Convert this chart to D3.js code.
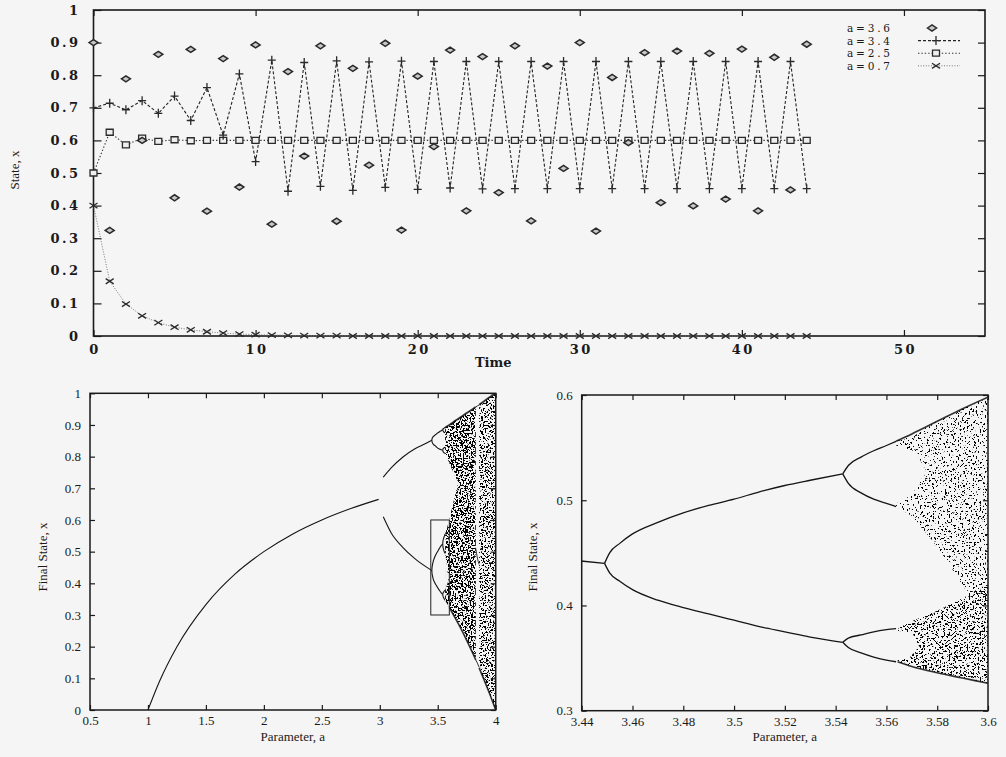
<!DOCTYPE html>
<html><head><meta charset="utf-8">
<script src="https://cdn.jsdelivr.net/npm/d3@7"></script>
<style>
html,body{margin:0;padding:0;background:#f5f5f5;}
svg{display:block;}
</style></head><body>
<svg id="c" width="1006" height="757"></svg>
<script>
// ---------- time series (top chart) ----------
const timeSteps = [0,1,2,3,4,5,6,7,8,9,10,11,12,13,14,15,16,17,18,19,20,21,22,23,24,25,26,27,28,29,30,31,32,33,34,35,36,37,38,39,40,41,42,43,44];
const legendLabels = ["a=3.6","a=3.4","a=2.5","a=0.7"];
const stateTicks = [0,0.1,0.2,0.3,0.4,0.5,0.6,0.7,0.8,0.9,1];
const stateTickLabels = ["0","0.1","0.2","0.3","0.4","0.5","0.6","0.7","0.8","0.9","1"];
const timeTicks = [0,10,20,30,40,50];
const a36 = [0.900,0.324,0.789,0.600,0.864,0.424,0.879,0.383,0.851,0.457,0.893,0.343,0.811,0.552,0.890,0.352,0.821,0.524,0.898,0.325,0.797,0.581,0.877,0.384,0.857,0.440,0.890,0.353,0.828,0.514,0.900,0.322,0.793,0.593,0.869,0.409,0.874,0.399,0.867,0.420,0.880,0.384,0.855,0.448,0.895];
const a34 = [0.700,0.714,0.694,0.722,0.683,0.736,0.661,0.762,0.616,0.804,0.535,0.846,0.444,0.839,0.459,0.844,0.447,0.841,0.456,0.843,0.450,0.842,0.454,0.842,0.451,0.842,0.452,0.842,0.452,0.842,0.452,0.842,0.452,0.842,0.452,0.842,0.452,0.842,0.452,0.842,0.452,0.842,0.452,0.842,0.452];
const a25 = [0.500,0.625,0.586,0.607,0.597,0.602,0.599,0.600,0.600,0.600,0.600,0.600,0.600,0.600,0.600,0.600,0.600,0.600,0.600,0.600,0.600,0.600,0.600,0.600,0.600,0.600,0.600,0.600,0.600,0.600,0.600,0.600,0.600,0.600,0.600,0.600,0.600,0.600,0.600,0.600,0.600,0.600,0.600,0.600,0.600];
const a07 = [0.400,0.168,0.098,0.062,0.041,0.027,0.019,0.013,0.009,0.006,0.004,0.003,0.002,0.001,0.001,0.001,0,0,0,0,0,0,0,0,0,0,0,0,0,0,0,0,0,0,0,0,0,0,0,0,0,0,0,0,0];

// ---------- bifurcation diagrams ----------
const leftATicks = [0.5,1,1.5,2,2.5,3,3.5,4];
const leftATickLabels = ["0.5","1","1.5","2","2.5","3","3.5","4"];
const leftXTicks = [0,0.1,0.2,0.3,0.4,0.5,0.6,0.7,0.8,0.9,1];
const leftXTickLabels = ["0","0.1","0.2","0.3","0.4","0.5","0.6","0.7","0.8","0.9","1"];
const rightATicks = [3.44,3.46,3.48,3.5,3.52,3.54,3.56,3.58,3.6];
const rightATickLabels = ["3.44","3.46","3.48","3.5","3.52","3.54","3.56","3.58","3.6"];
const rightXTicks = [0.3,0.4,0.5,0.6];
const rightXTickLabels = ["0.3","0.4","0.5","0.6"];

const fixedA = [1,1.1,1.25,1.5,1.75,2,2.25,2.5,2.75,2.99];
const fixedX = [0,0.091,0.2,0.333,0.429,0.5,0.556,0.6,0.636,0.665];
const p2A  = [3.03,3.1,3.2,3.3,3.4,3.449];
const p2Up = [0.735,0.765,0.799,0.824,0.842,0.852];
const p2Lo = [0.61,0.558,0.513,0.479,0.452,0.440];
const p4A  = [3.449,3.451,3.455,3.46,3.47,3.48,3.49,3.5,3.51,3.52,3.53,3.5428];
const p4UU = [0.852,0.857,0.860,0.863,0.866,0.869,0.872,0.875,0.877,0.880,0.882,0.885];
const p4UL = [0.852,0.847,0.843,0.840,0.836,0.834,0.830,0.827,0.825,0.823,0.822,0.821];
const p4LU = [0.440,0.450,0.459,0.468,0.479,0.488,0.495,0.501,0.508,0.514,0.519,0.525];
const p4LL = [0.440,0.431,0.423,0.415,0.405,0.398,0.392,0.386,0.380,0.375,0.370,0.365];
const p8A  = [3.5428,3.545,3.55,3.555,3.56,3.5638];
const p8a  = [0.885,0.887,0.889,0.890,0.891,0.892];
const p8b  = [0.885,0.882,0.879,0.877,0.876,0.875];
const p8c  = [0.821,0.824,0.826,0.828,0.829,0.830];
const p8d  = [0.821,0.817,0.814,0.812,0.811,0.810];
const p8e  = [0.525,0.533,0.541,0.547,0.552,0.556];
const p8f  = [0.525,0.516,0.507,0.501,0.497,0.494];
const p8g  = [0.365,0.369,0.372,0.375,0.377,0.378];
const p8h  = [0.365,0.360,0.355,0.351,0.348,0.3465];

// chaotic bands (outlines)
const chaosMainA = [3.5638,3.6,3.65,3.7,3.75,3.8,3.828,3.828,3.8,3.75,3.7,3.65,3.6,3.5638];
const chaosMainX = [0.892,0.900,0.913,0.925,0.938,0.950,0.957,0.158,0.181,0.220,0.257,0.291,0.324,0.346];
const wedgeA = [3.5638,3.578,3.606,3.649,3.678,3.65,3.62,3.6,3.5638];
const wedgeX = [0.81,0.80,0.774,0.737,0.72,0.678,0.635,0.60,0.556];
const gapA = [3.5638,3.578,3.5925,3.58,3.5644];
const gapX = [0.494,0.462,0.41,0.395,0.378];
const chaosEndA = [3.857,3.9,3.95,4,4,3.95,3.9,3.857];
const chaosEndX = [0.964,0.975,0.988,1.0,0.0,0.049,0.095,0.133];
const p3A = [3.828,3.842,3.857];
const p3Hi = [0.957,0.960,0.963];
const p3Mid = [0.51,0.48,0.46];
const p3Lo = [0.158,0.148,0.135];

const upperBandA = [3.5638,3.57,3.58,3.59,3.6,3.6,3.5925,3.585,3.578,3.57,3.5638];
const upperBandX = [0.556,0.563,0.575,0.587,0.598,0.40,0.41,0.438,0.462,0.485,0.494];
const upperHoleA = [3.5638,3.5717,3.5756,3.570,3.5638];
const upperHoleX = [0.552,0.546,0.527,0.505,0.497];
const lowerBandA = [3.5644,3.57,3.58,3.5925,3.6,3.6,3.59,3.58,3.57,3.5644];
const lowerBandX = [0.378,0.385,0.395,0.41,0.42,0.326,0.331,0.336,0.342,0.3465];
const lowerHoleA = [3.5644,3.5703,3.5729,3.569,3.5644];
const lowerHoleX = [0.376,0.3735,0.361,0.35,0.348];
const zoomBoxA = [3.44,3.6];
const zoomBoxX = [0.3,0.6];

// ---------------------------------------------------------
const svg = d3.select("#c");
const defs = svg.append("defs");
function speckle(id, cut, freq, seed){
  const f = defs.append("filter").attr("id",id).attr("filterUnits","userSpaceOnUse")
    .attr("x",0).attr("y",0).attr("width",1006).attr("height",757);
  f.append("feTurbulence").attr("type","fractalNoise").attr("baseFrequency",freq)
    .attr("numOctaves",2).attr("seed",seed).attr("result","n");
  f.append("feColorMatrix").attr("in","n").attr("type","matrix")
    .attr("values",`0 0 0 0 0  0 0 0 0 0  0 0 0 0 0  -30 0 0 0 ${30*cut}`).attr("result","m");
  f.append("feComposite").attr("in","m").attr("in2","SourceGraphic").attr("operator","in");
}
speckle("spkDense", 0.50, 0.6, 3);
speckle("spkMed", 0.455, 0.6, 5);
speckle("spkLight", 0.385, 0.55, 9);
speckle("spkLow", 0.43, 0.55, 11);

const ink = "#1a1a1a";

// ================= TOP CHART =================
const xT = d3.scaleLinear().domain([0,55]).range([93.5,985]);
const yT = d3.scaleLinear().domain([0,1]).range([336,10]);
const topG = svg.append("g");
const serifBold = "'DejaVu Serif', serif";

function cleanAxis(g){
  g.select(".domain").remove();
  g.selectAll(".tick line").attr("stroke",ink).attr("stroke-width",1.2);
}
topG.append("g").attr("transform",`translate(${xT.range()[0]},0)`)
  .call(d3.axisLeft(yT).tickValues(stateTicks).tickSize(-8).tickPadding(13).tickFormat((d,i)=>stateTickLabels[i]))
  .call(cleanAxis)
  .call(g=>g.selectAll("text").attr("font-family",serifBold).attr("font-weight","bold").attr("font-size",13).attr("letter-spacing","2.5px").attr("fill",ink));
topG.append("g").attr("transform",`translate(${xT.range()[1]},0)`)
  .call(d3.axisRight(yT).tickValues(stateTicks).tickSize(-7).tickFormat(""))
  .call(cleanAxis);
topG.append("g").attr("transform",`translate(0,${yT.range()[0]})`)
  .call(d3.axisBottom(xT).tickValues(timeTicks).tickSize(-6).tickPadding(9).tickFormat(d=>String(d)))
  .call(cleanAxis)
  .call(g=>g.selectAll("text").attr("font-family",serifBold).attr("font-weight","bold").attr("font-size",13).attr("letter-spacing","2.5px").attr("dx",1).attr("fill",ink));
topG.append("g").attr("transform",`translate(0,${yT.range()[1]})`)
  .call(d3.axisTop(xT).tickValues(timeTicks).tickSize(-6).tickFormat(""))
  .call(cleanAxis);
topG.append("rect").attr("x",xT.range()[0]).attr("y",yT.range()[1])
  .attr("width",xT.range()[1]-xT.range()[0]).attr("height",yT.range()[0]-yT.range()[1])
  .attr("fill","none").attr("stroke",ink).attr("stroke-width",1.6);

topG.append("text").attr("x",(xT(0)+xT(55))/2-46).attr("y",367).attr("text-anchor","middle")
  .attr("font-family",serifBold).attr("font-weight","bold").attr("font-size",13).attr("fill",ink).text("Time");
topG.append("text").attr("transform","translate(19,170) rotate(-90)").attr("text-anchor","middle")
  .attr("font-family","'Liberation Serif', serif").attr("font-size",13).attr("fill",ink).text("State, x");

const lineT = d3.line().x((d,i)=>xT(timeSteps[i])).y(d=>yT(d));
const diamondPath = "M-4.5,0L0,-3L4.5,0L0,3Z";
const plusPath = "M-4,0H4M0,-4.5V4.5";
const squarePath = "M-3.5,-3H3.5V3H-3.5Z";
const crossPath = "M-4,-2.6L4,2.6M-4,2.6L4,-2.6";

const series = [
  {vals:a36, line:null, path:diamondPath, fill:"#c8c8c8", sw:1.5},
  {vals:a34, line:"3,2", path:plusPath, fill:"none", sw:1.3, lc:"#222", lw:1.1},
  {vals:a25, line:"1.4,2", path:squarePath, fill:"#eee", sw:1.3, lc:"#333", lw:1.1},
  {vals:a07, line:"1,1.6", path:crossPath, fill:"none", sw:1.3, lc:"#777", lw:1}
];
series.slice().reverse().forEach(s=>{
  if(s.line){
    topG.append("path").attr("d",lineT(s.vals)).attr("fill","none")
      .attr("stroke",s.lc).attr("stroke-width",s.lw).attr("stroke-dasharray",s.line);
  }
});
series.slice().reverse().forEach(s=>{
  topG.append("g").selectAll("path").data(s.vals).join("path")
    .attr("transform",(d,i)=>`translate(${xT(timeSteps[i])},${yT(d)})`)
    .attr("d",s.path).attr("fill",s.fill).attr("stroke","#2a2a2a").attr("stroke-width",s.sw);
});
// legend
const lg = topG.append("g");
legendLabels.forEach((lab,i)=>{
  const y = 32 + i*12.6;
  lg.append("text").attr("x",847).attr("y",y).attr("font-family",serifBold).attr("font-size",10.5)
    .attr("letter-spacing","2.8px").attr("fill",ink).text(lab);
  const s = series[i];
  if(s.line){
    lg.append("line").attr("x1",918).attr("x2",960).attr("y1",y-4).attr("y2",y-4)
      .attr("stroke",s.lc).attr("stroke-width",s.lw).attr("stroke-dasharray",s.line);
  }
  lg.append("path").attr("transform",`translate(${i===0?932:936},${y-4})`).attr("d",s.path)
    .attr("fill",s.fill).attr("stroke","#2a2a2a").attr("stroke-width",s.sw);
});

// ================= BIFURCATION CHARTS =================
const serif = "'Liberation Serif', 'Times New Roman', serif";
function bifChart(cfg){
  const x = d3.scaleLinear().domain(cfg.aDom).range(cfg.xr);
  const y = d3.scaleLinear().domain(cfg.xDom).range(cfg.yr);
  const g = svg.append("g");
  const cid = cfg.id+"clip";
  defs.append("clipPath").attr("id",cid).append("rect")
    .attr("x",cfg.xr[0]).attr("y",cfg.yr[1]).attr("width",cfg.xr[1]-cfg.xr[0]).attr("height",cfg.yr[0]-cfg.yr[1]);
  const plot = g.append("g").attr("clip-path",`url(#${cid})`);

  const poly = (A,X)=> "M" + A.map((a,i)=>`${x(a)},${y(X[i])}`).join("L") + "Z";
  const ln = d3.line().curve(d3.curveMonotoneX);
  const branch = (A,X)=> ln(A.map((a,i)=>[x(a),y(X[i])]));

  cfg.bands.forEach(b=>{
    const d = b.polys.map(p=>poly(p[0],p[1])).join(" ");
    plot.append("path").attr("d",d).attr("fill-rule","evenodd").attr("fill","#000")
      .attr("filter",`url(#${b.filter})`);
  });
  (cfg.edges||[]).forEach(e=>{
    plot.append("path").attr("d",ln(e[0].map((a,i)=>[x(a),y(e[1][i])]))).attr("fill","none")
      .attr("stroke","#111").attr("stroke-width",e[2]||1.6).attr("opacity",0.85);
  });
  cfg.branches.forEach(b=>{
    plot.append("path").attr("d",branch(b[0],b[1])).attr("fill","none")
      .attr("stroke","#151515").attr("stroke-width",cfg.bw||1.2);
  });
  if(cfg.box){
    plot.append("rect").attr("x",x(zoomBoxA[0])).attr("y",y(zoomBoxX[1]))
      .attr("width",x(zoomBoxA[1])-x(zoomBoxA[0])).attr("height",y(zoomBoxX[0])-y(zoomBoxX[1]))
      .attr("fill","none").attr("stroke","#222").attr("stroke-width",1);
  }
  const styleTxt = s=>s.selectAll("text").attr("font-family",serif).attr("font-size",13).attr("fill",ink);
  g.append("g").attr("transform",`translate(0,${cfg.yr[0]})`)
    .call(d3.axisBottom(x).tickValues(cfg.aTicks).tickSize(-5).tickPadding(6).tickFormat((d,i)=>cfg.aLabels[i]))
    .call(cleanAxis).call(styleTxt);
  g.append("g").attr("transform",`translate(0,${cfg.yr[1]})`)
    .call(d3.axisTop(x).tickValues(cfg.aTicks).tickSize(-5).tickFormat("")).call(cleanAxis);
  g.append("g").attr("transform",`translate(${cfg.xr[0]},0)`)
    .call(d3.axisLeft(y).tickValues(cfg.xTicks).tickSize(-5).tickPadding(9).tickFormat((d,i)=>cfg.xLabels[i]))
    .call(cleanAxis).call(styleTxt);
  g.append("g").attr("transform",`translate(${cfg.xr[1]},0)`)
    .call(d3.axisRight(y).tickValues(cfg.xTicks).tickSize(-5).tickFormat("")).call(cleanAxis);
  g.append("rect").attr("x",cfg.xr[0]).attr("y",cfg.yr[1]).attr("width",cfg.xr[1]-cfg.xr[0])
    .attr("height",cfg.yr[0]-cfg.yr[1]).attr("fill","none").attr("stroke",ink).attr("stroke-width",1.5);
  g.append("text").attr("x",(cfg.xr[0]+cfg.xr[1])/2).attr("y",741).attr("text-anchor","middle")
    .attr("font-family",serif).attr("font-size",13).attr("fill",ink).text("Parameter, a");
  g.append("text").attr("transform",`translate(${cfg.ylx},${cfg.yly}) rotate(-90)`).attr("text-anchor","middle")
    .attr("font-family",serif).attr("font-size",13).attr("fill",ink).text("Final State, x");
}

bifChart({
  id:"L", aDom:[0.5,4], xDom:[0,1], xr:[90,495.7], yr:[710,393.3],
  aTicks:leftATicks, aLabels:leftATickLabels, xTicks:leftXTicks, xLabels:leftXTickLabels,
  ylx:47, yly:557, box:true, bw:1.1,
  bands:[
    {filter:"spkDense", polys:[[chaosMainA,chaosMainX],[wedgeA,wedgeX],[gapA,gapX]]},
    {filter:"spkMed", polys:[[chaosEndA,chaosEndX]]}
  ],
  edges:[
    [[3.5638,3.6,3.65,3.7,3.75,3.8,3.828],[0.892,0.900,0.913,0.925,0.938,0.950,0.957],1.8],
    [[3.857,3.9,3.95,4],[0.964,0.975,0.988,1.0],1.8],
    [[3.6,3.65,3.7,3.75,3.8,3.828],[0.324,0.291,0.257,0.220,0.181,0.158],1.6],
    [[3.857,3.9,3.95,4],[0.133,0.095,0.049,0.0],1.6],
    [p3A,p3Hi,1],[p3A,p3Mid,1],[p3A,p3Lo,1]
  ],
  branches:[[fixedA,fixedX],[p2A,p2Up],[p2A,p2Lo],[p4A,p4UU],[p4A,p4UL],[p4A,p4LU],[p4A,p4LL],
    [p8A,p8a],[p8A,p8b],[p8A,p8c],[p8A,p8d],[p8A,p8e],[p8A,p8f],[p8A,p8g],[p8A,p8h]]
});

bifChart({
  id:"R", aDom:[3.44,3.6], xDom:[0.3,0.6], xr:[581.7,988], yr:[710.7,395],
  aTicks:rightATicks, aLabels:rightATickLabels, xTicks:rightXTicks, xLabels:rightXTickLabels,
  ylx:537, yly:557, box:false, bw:1.3,
  bands:[
    {filter:"spkLight", polys:[[upperBandA,upperBandX],[upperHoleA,upperHoleX]]},
    {filter:"spkLow", polys:[[lowerBandA,lowerBandX],[lowerHoleA,lowerHoleX]]}
  ],
  edges:[
    [[3.5638,3.57,3.58,3.59,3.6],[0.556,0.563,0.575,0.587,0.598],1.6],
    [[3.5644,3.57,3.58,3.59,3.6],[0.3465,0.342,0.336,0.331,0.326],1.6]
  ],
  branches:[[p2A,p2Lo],[p4A,p4LU],[p4A,p4LL],[p8A,p8e],[p8A,p8f],[p8A,p8g],[p8A,p8h]]
});
</script>
</body></html>
